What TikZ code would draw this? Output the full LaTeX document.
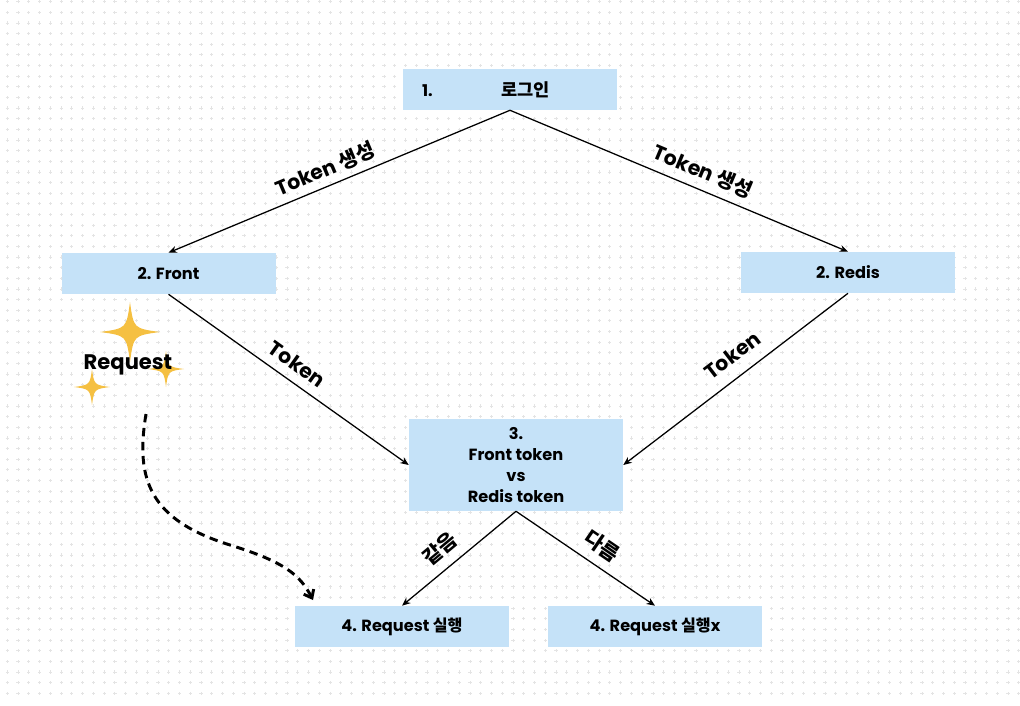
\documentclass[tikz,border=0pt]{standalone}
\usepackage{fontspec}
\setmainfont{Poppins}
\newfontfamily\kr{Noto Sans CJK KR}
\usetikzlibrary{arrows.meta}
\newcommand{\ko}[1]{{\kr\bfseries #1}}
\definecolor{boxblue}{RGB}{197,226,248}
\definecolor{gold}{RGB}{245,192,66}
\definecolor{dotgray}{RGB}{228,228,228}

\begin{document}
\begin{tikzpicture}[>=Stealth,
  box/.style={fill=boxblue,minimum width=5.35cm,minimum height=1.025cm,inner sep=0pt,
    font=\fontsize{11.5}{15}\selectfont\bfseries},
  lnk/.style={line width=0.9pt,-{Stealth[length=6pt,width=5pt]}},
  lbl/.style={font=\fontsize{14.5}{17}\selectfont\bfseries,inner sep=0pt},
  flow/.style={line width=2.1pt,dash pattern=on 6pt off 4pt,-{Straight Barb[length=5pt,width=8pt]}}]
\useasboundingbox (0,0) rectangle (25.5,17.625);
% 背景网格
\draw[dotgray,line width=0.6pt] foreach \i in {0,...,94}{foreach \j in {0,...,65}{
  (0.183+0.269*\i,17.583-0.266*\j) +(-0.04,0) -- +(0.04,0) +(0,-0.04) -- +(0,0.04)}};
% 节点
\node[box] (login) at (12.75,15.3875) {1.\hspace{49pt}{\fontsize{12.5}{15}\selectfont\ko{로그인}}\kern34pt};
\node[box] (front) at (4.2125,10.7875) {2. Front};
\node[box] (redis) at (21.2,10.8125) {2. Redis};
\node[box,minimum height=2.3cm,align=center] (cmp) at (12.9,6.0) {3.\\Front token\\vs\\Redis token};
\node[box] (run) at (10.05,1.9625) {4. Request \ko{실행}};
\node[box] (norun) at (16.375,1.9625) {4. Request \ko{실행}x};
% 连线
\draw[lnk] (login.south) -- (front.north);
\draw[lnk] (login.south) -- (redis.north);
\draw[lnk] (front.south) -- (cmp.west);
\draw[lnk] (redis.south) -- (cmp.east);
\draw[lnk] (cmp.south) -- (run.north);
\draw[lnk] (cmp.south) -- (norun.north);
% 标签
\node[lbl,rotate=22.8] (tokl) at (8.125,13.4) {Token \ko{생성}};
\node[lbl,rotate=-22.8] (tokr) at (17.575,13.35) {Token \ko{생성}};
\node[lbl,rotate=-35.5] (frtok) at (7.425,8.52) {Token};
\node[lbl,rotate=37.4] (rdtok) at (18.3,8.74) {Token};
\node[lbl,rotate=39.8] (same) at (11.0,3.92) {\ko{같음}};
\node[lbl,rotate=-34.3] (diff) at (15.05,3.97) {\ko{다름}};
% 星星 + Request
\foreach \sx/\sy/\sr in {3.25/9.325/0.75,4.15/8.4/0.45,2.3/7.95/0.45}{
  \begin{scope}[shift={(\sx,\sy)},scale=\sr]
  \fill[gold] (0,1) .. controls (0.12,0.12) .. (1,0) .. controls (0.12,-0.12) .. (0,-1)
    .. controls (-0.12,-0.12) .. (-1,0) .. controls (-0.12,0.12) .. (0,1);
  \end{scope}}
\node[font=\fontsize{15}{18}\selectfont\bfseries,inner sep=0pt] (req) at (3.2,8.5) {Request};
% 虚线弯箭头
\coordinate (dstart) at (3.65,7.275);
\coordinate (dend) at (7.825,2.625);
\draw[flow] (dstart) .. controls (3.375,5.625) and (3.75,4.625) .. (5.75,4.0)
  .. controls (7.125,3.575) and (7.5,3.25) .. (dend);
\end{tikzpicture}
\end{document}
